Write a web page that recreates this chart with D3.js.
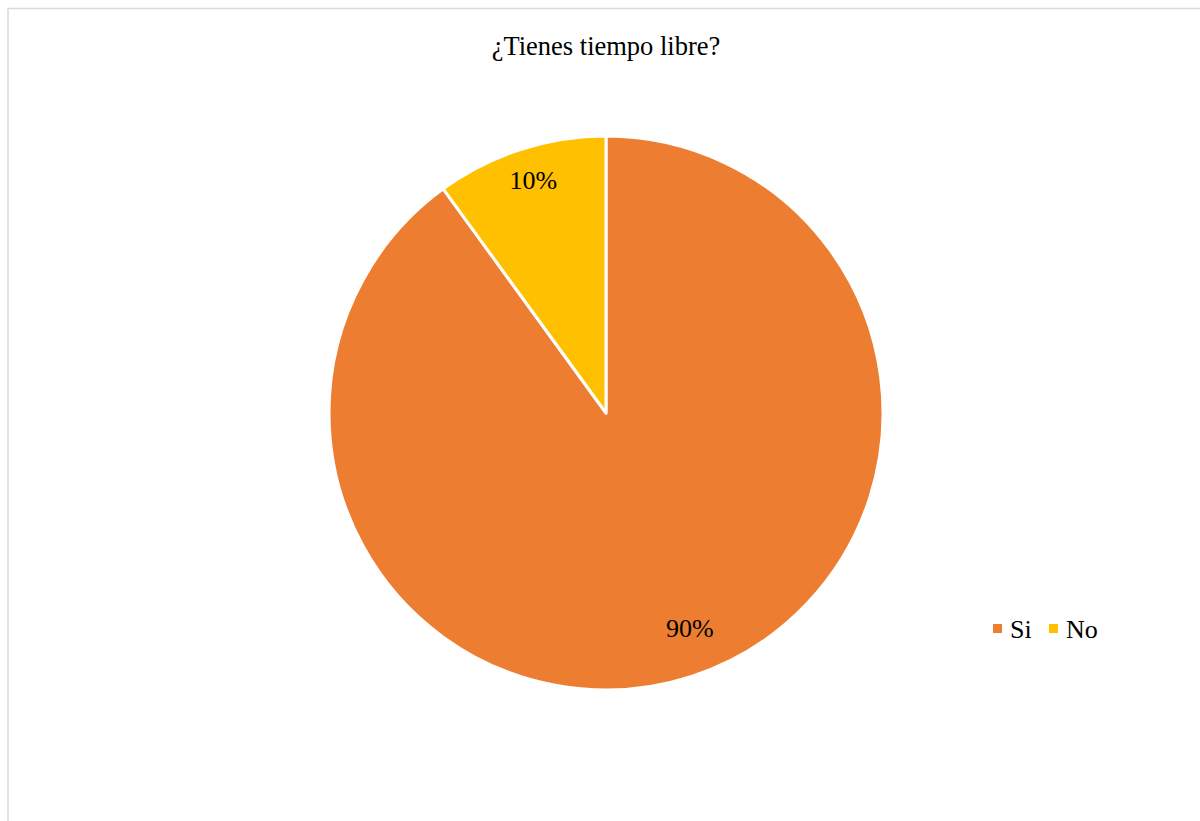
<!DOCTYPE html>
<html>
<head>
<meta charset="utf-8">
<style>
  body { margin: 0; background: #fff; }
  text { font-family: "Liberation Serif", "Times New Roman", serif; fill: #000; }
</style>
</head>
<body>
<svg width="1200" height="821"></svg>
<script src="https://cdnjs.cloudflare.com/ajax/libs/d3/7.8.5/d3.min.js"></script>
<script>

var categories = ["Si", "No"];
var values = [90, 10];
var colors = ["#ed7d31", "#ffc000"];
var title = "¿Tienes tiempo libre?";

var svg = d3.select("svg"),
    cx = 606,
    cy = 413,
    radius = 277;

// chart area frame
svg.append("rect")
    .attr("x", 8)
    .attr("y", 8.5)
    .attr("width", 1205)
    .attr("height", 830)
    .attr("fill", "none")
    .attr("stroke", "#d9d9d9")
    .attr("stroke-width", 1.5);

svg.append("text")
    .attr("x", cx)
    .attr("y", 55)
    .attr("text-anchor", "middle")
    .style("font-size", "26.5px")
    .text(title);

var data = categories.map(function(c, i) { return {name: c, value: values[i]}; });

var pie = d3.pie()
    .sort(null)
    .value(function(d) { return d.value; });

var arc = d3.arc().innerRadius(0).outerRadius(radius);
// excel-style label placement, slightly different per slice
var labelR = [226, 245];
var labelDx = [14, 3];

var g = svg.append("g").attr("transform", "translate(" + cx + "," + cy + ")");

var slices = pie(data);

g.selectAll("path")
  .data(slices)
  .enter().append("path")
    .attr("d", arc)
    .attr("fill", function(d, i) { return colors[i]; })
    .attr("stroke", "#fff")
    .attr("stroke-width", 3)
    .attr("stroke-linejoin", "round");

g.selectAll("text.lbl")
  .data(slices)
  .enter().append("text")
    .attr("class", "lbl")
    .attr("transform", function(d, i) {
      var c = d3.arc().innerRadius(labelR[i]).outerRadius(labelR[i]).centroid(d);
      return "translate(" + (c[0] + labelDx[i]) + "," + c[1] + ")";
    })
    .attr("dy", "0.35em")
    .attr("text-anchor", "middle")
    .style("font-size", "26px")
    .text(function(d) { return d.data.value + "%"; });

// legend
var legend = svg.append("g").attr("transform", "translate(993,629)");
var offs = [0, 56];
var item = legend.selectAll("g")
  .data(categories)
  .enter().append("g")
    .attr("transform", function(d, i) { return "translate(" + offs[i] + ",0)"; });

item.append("rect")
    .attr("x", 0)
    .attr("y", -5)
    .attr("width", 9)
    .attr("height", 9)
    .attr("fill", function(d, i) { return colors[i]; });

item.append("text")
    .attr("x", 17)
    .attr("y", 0)
    .attr("dy", "0.35em")
    .style("font-size", "26px")
    .text(function(d) { return d; });

</script>
</body>
</html>
